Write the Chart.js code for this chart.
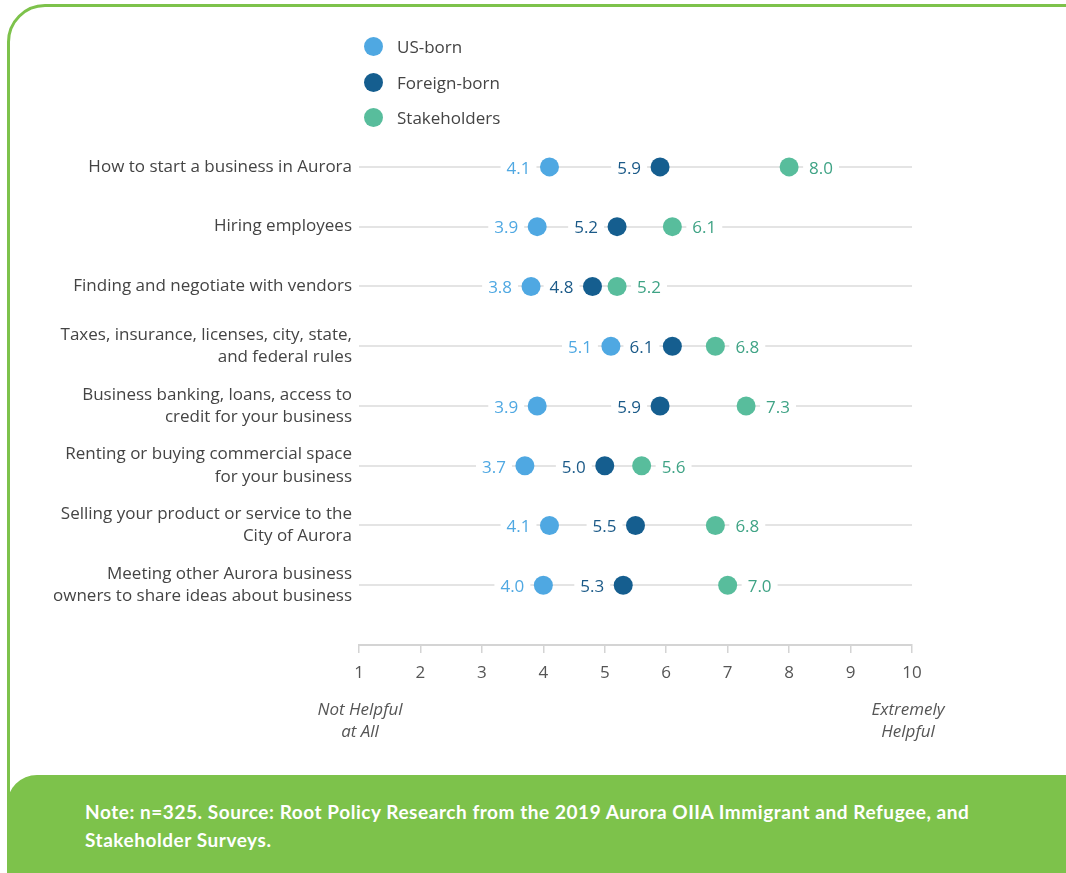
<!DOCTYPE html>
<html>
<head>
<meta charset="utf-8">
<script src="https://cdn.jsdelivr.net/npm/chart.js@4.4.1/dist/chart.umd.min.js"></script>
<style>
  html, body { margin: 0; padding: 0; background: #fff; }
  body { width: 1066px; height: 873px; position: relative; overflow: hidden; font-family: "Open Sans", sans-serif; }
  .frame {
    position: absolute; left: 7px; top: 4px; width: 1120px; height: 920px;
    border: 3px solid #7dc24b; border-radius: 38px; box-sizing: border-box;
  }
  .footer {
    position: absolute; left: 7px; top: 775px; width: 1120px; height: 120px;
    background: #7dc24b; border-top-left-radius: 30px;
  }
  .note {
    position: absolute; left: 85px; top: 798px; width: 980px;
    color: #fff; font-family: Lato, sans-serif; font-weight: 700; font-size: 19px;
    line-height: 28px; letter-spacing: 0.55px;
  }
  #chartWrap { position: absolute; left: 0; top: 0; width: 1066px; height: 873px; }
  .legend { position: absolute; left: 364px; top: 34px; }
  .legend div { position: relative; height: 35.5px; padding-left: 33px; font-size: 17px; color: #444; line-height: 25px; }
  .legend span { position: absolute; left: 0; top: 3px; width: 19px; height: 19px; border-radius: 50%; }
</style>
</head>
<body>
<div class="frame"></div>
<div id="chartWrap"><canvas id="dotChart"></canvas></div>
<div class="legend" id="legend"></div>
<div class="footer"></div>
<div class="note">Note: n=325. Source: Root Policy Research from the 2019 Aurora OIIA Immigrant and Refugee, and<br>Stakeholder Surveys.</div>
<script>
// categories (top to bottom)
const categories = [
  ["How to start a business in Aurora"],
  ["Hiring employees"],
  ["Finding and negotiate with vendors"],
  ["Taxes, insurance, licenses, city, state,", "and federal rules"],
  ["Business banking, loans, access to", "credit for your business"],
  ["Renting or buying commercial space", "for your business"],
  ["Selling your product or service to the", "City of Aurora"],
  ["Meeting other Aurora business", "owners to share ideas about business"],
];

const seriesNames = ["US-born", "Foreign-born", "Stakeholders"];
const usBorn = [4.1, 3.9, 3.8, 5.1, 3.9, 3.7, 4.1, 4.0];
const foreignBorn = [5.9, 5.2, 4.8, 6.1, 5.9, 5.0, 5.5, 5.3];
const stakeholders = [8.0, 6.1, 5.2, 6.8, 7.3, 5.6, 6.8, 7.0];
const xTicks = [1, 2, 3, 4, 5, 6, 7, 8, 9, 10];

const dotColors = ["#4fa8e2", "#155e8f", "#58bd9c"];
const textColors = ["#4fa8e2", "#1b5a88", "#3fa385"];

// legend
const legendEl = document.getElementById("legend");
seriesNames.forEach((name, i) => {
  const row = document.createElement("div");
  row.innerHTML = '<span style="background:' + dotColors[i] + '"></span>' + name;
  legendEl.appendChild(row);
});

const toPoints = (arr) => arr.map((v, i) => ({ x: v, y: i }));

// value labels with white box that cuts the grid line
const valueLabels = {
  id: "valueLabels",
  boxes(chart) {
    const ctx = chart.ctx;
    ctx.font = "17px 'Open Sans'";
    const out = [];
    chart.data.datasets.forEach((ds, di) => {
      const meta = chart.getDatasetMeta(di);
      meta.data.forEach((pt, i) => {
        const txt = ds.data[i].x.toFixed(1);
        const w = ctx.measureText(txt).width;
        const x = di === 2 ? pt.x + 20 : pt.x - 19 - w;
        out.push({ x, y: pt.y + 2, w, txt, color: textColors[di] });
      });
    });
    return out;
  },
  beforeDatasetsDraw(chart) {
    const ctx = chart.ctx;
    ctx.save();
    ctx.fillStyle = "#fff";
    this.boxes(chart).forEach((b) => ctx.fillRect(b.x - 6, b.y - 10, b.w + 12, 18));
    ctx.restore();
  },
  afterDatasetsDraw(chart) {
    const ctx = chart.ctx;
    ctx.save();
    ctx.font = "17px 'Open Sans'";
    ctx.textAlign = "left";
    ctx.textBaseline = "middle";
    this.boxes(chart).forEach((b) => {
      ctx.fillStyle = b.color;
      ctx.fillText(b.txt, b.x, b.y);
    });
    ctx.restore();
  },
  afterDraw(chart) {
    const ctx = chart.ctx;
    const xs = chart.scales.x;
    const bottom = chart.chartArea.bottom;
    ctx.save();
    ctx.font = "italic 17px 'Open Sans'";
    ctx.fillStyle = "#555";
    ctx.textAlign = "center";
    ctx.textBaseline = "middle";
    const l = xs.getPixelForValue(1);
    const r = xs.getPixelForValue(10) - 4;
    ctx.fillText("Not Helpful", l + 1, bottom + 65);
    ctx.fillText("at All", l + 1, bottom + 87);
    ctx.fillText("Extremely", r, bottom + 65);
    ctx.fillText("Helpful", r, bottom + 87);
    ctx.restore();
  },
};

new Chart(document.getElementById("dotChart"), {
  type: "scatter",
  data: {
    datasets: [usBorn, foreignBorn, stakeholders].map((arr, i) => ({
      label: seriesNames[i],
      data: toPoints(arr),
      backgroundColor: dotColors[i],
      borderWidth: 0,
      pointRadius: 9.5,
      pointHoverRadius: 9.5,
    })),
  },
  options: {
    responsive: true,
    maintainAspectRatio: false,
    animation: false,
    layout: { padding: { top: 137, right: 154, bottom: 188, left: 0 } },
    plugins: { legend: { display: false }, tooltip: { enabled: false } },
    scales: {
      x: {
        type: "linear",
        min: 1,
        max: 10,
        afterBuildTicks: (s) => { s.ticks = xTicks.map((v) => ({ value: v })); },
        afterFit: (s) => { s.height = 40; },
        border: { color: "#d4d4d4", width: 2 },
        grid: { drawOnChartArea: false, tickLength: 8, color: "#d4d4d4", lineWidth: 1.5 },
        ticks: { padding: 10, color: "#555", font: { family: "Open Sans", size: 17 } },
      },
      y: {
        type: "linear",
        reverse: true,
        min: -0.5,
        max: 8,
        afterBuildTicks: (s) => { s.ticks = categories.map((c, i) => ({ value: i })); },
        afterFit: (s) => { s.width = 359; },
        border: { display: false },
        grid: { drawTicks: false, color: "#e4e4e4", lineWidth: 2 },
        ticks: {
          padding: 7,
          color: "#444",
          font: { family: "Open Sans", size: 17, lineHeight: 1.3 },
          callback: (v) => categories[v],
        },
      },
    },
  },
  plugins: [valueLabels],
});
</script>
</body>
</html>
